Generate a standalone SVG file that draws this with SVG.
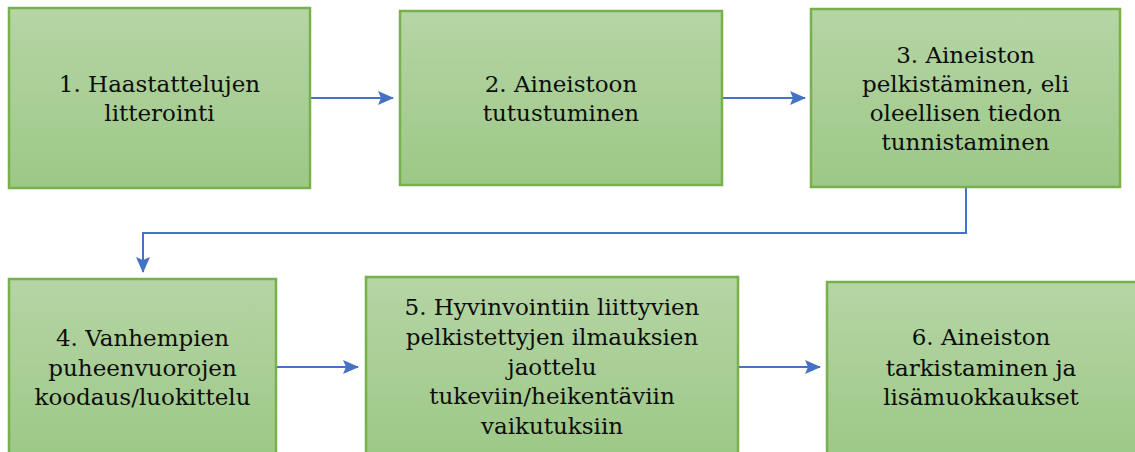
<svg xmlns="http://www.w3.org/2000/svg" width="1135" height="452" viewBox="0 0 1135 452">
  <defs>
    <linearGradient id="boxFill" x1="0" y1="0" x2="0" y2="1">
      <stop offset="0" stop-color="#b6d5a5"/>
      <stop offset="1" stop-color="#9cc886"/>
    </linearGradient>
    <marker id="arrow" viewBox="0 0 16 14" refX="15" refY="7" markerWidth="16" markerHeight="14" markerUnits="userSpaceOnUse" orient="auto">
      <path d="M0,0 L16,7 L0,14 L3,7 Z" fill="#4472c4"/>
    </marker>
  </defs>
  <style>
    .box { fill: url(#boxFill); stroke: #78b04b; stroke-width: 2.5; }
    .label { font-family: "DejaVu Serif", "Liberation Serif", serif; font-size: 23px; fill: #0d0d0d; text-anchor: middle; }
    .link { fill: none; stroke: #4472c4; stroke-width: 2; marker-end: url(#arrow); }
  </style>

  <g id="connectors">
    <path class="link" d="M310,98 H393"/>
    <path class="link" d="M722,98 H805"/>
    <path class="link" d="M966,187 V233 H143 V272"/>
    <path class="link" d="M276,367 H358"/>
    <path class="link" d="M738,367 H820"/>
  </g>

  <g id="step1">
    <rect class="box" x="9" y="8" width="301" height="180"/>
    <text class="label"><tspan x="159.5" y="92">1. Haastattelujen</tspan><tspan x="159.5" y="121">litterointi</tspan></text>
  </g>

  <g id="step2">
    <rect class="box" x="400" y="11" width="322" height="174"/>
    <text class="label"><tspan x="561" y="92">2. Aineistoon</tspan><tspan x="561" y="121">tutustuminen</tspan></text>
  </g>

  <g id="step3">
    <rect class="box" x="811" y="9" width="309" height="178"/>
    <text class="label"><tspan x="965.5" y="63">3. Aineiston</tspan><tspan x="965.5" y="92">pelkistäminen, eli</tspan><tspan x="965.5" y="121">oleellisen tiedon</tspan><tspan x="965.5" y="150">tunnistaminen</tspan></text>
  </g>

  <g id="step4">
    <rect class="box" x="9" y="279" width="267" height="180"/>
    <text class="label"><tspan x="142.5" y="346">4. Vanhempien</tspan><tspan x="142.5" y="375.5">puheenvuorojen</tspan><tspan x="142.5" y="405">koodaus/luokittelu</tspan></text>
  </g>

  <g id="step5">
    <rect class="box" x="366" y="277" width="372" height="182"/>
    <text class="label"><tspan x="552" y="315">5. Hyvinvointiin liittyvien</tspan><tspan x="552" y="345">pelkistettyjen ilmauksien</tspan><tspan x="552" y="375">jaottelu</tspan><tspan x="552" y="404">tukeviin/heikentäviin</tspan><tspan x="552" y="434">vaikutuksiin</tspan></text>
  </g>

  <g id="step6">
    <rect class="box" x="827" y="282" width="315" height="180"/>
    <text class="label"><tspan x="981" y="345">6. Aineiston</tspan><tspan x="981" y="376">tarkistaminen ja</tspan><tspan x="981" y="405">lisämuokkaukset</tspan></text>
  </g>
</svg>
